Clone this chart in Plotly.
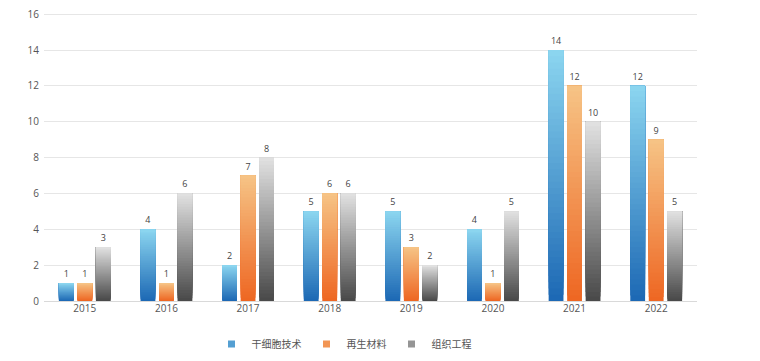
import plotly.graph_objects as go

years = ["2015", "2016", "2017", "2018", "2019", "2020", "2021", "2022"]
series_names = ["干细胞技术", "再生材料", "组织工程"]
stem_cell = [1, 4, 2, 5, 5, 4, 14, 12]
regen_material = [1, 1, 7, 6, 3, 1, 12, 9]
tissue_eng = [3, 6, 8, 6, 2, 5, 10, 5]
series_values = [stem_cell, regen_material, tissue_eng]

# gradient colours (bottom, top)
gradients = [
    ((28, 104, 180), (140, 214, 240)),
    ((238, 102, 34), (246, 196, 134)),
    ((72, 72, 72), (226, 226, 226)),
]
N_SEG = 40


def lerp(c0, c1, t):
    return "rgb(%d,%d,%d)" % tuple(round(a + (b - a) * t) for a, b in zip(c0, c1))


fig = go.Figure()
for si, (name, vals) in enumerate(zip(series_names, series_values)):
    c0, c1 = gradients[si]
    for k in range(N_SEG):
        t = (k + 0.5) / N_SEG
        is_top = k == N_SEG - 1
        # each segment spans from its start to the bar top; later ones overlap
        fig.add_trace(go.Bar(
            x=years,
            y=[v * (N_SEG - k) / N_SEG for v in vals],
            base=[v * k / N_SEG for v in vals],
            offsetgroup=str(si),
            legendgroup=name,
            name=name,
            showlegend=False,
            marker=dict(color=lerp(c0, c1, t), line=dict(width=0)),
            text=[str(v) for v in vals] if is_top else None,
            textposition="outside" if is_top else "none",
            textfont=dict(size=9, color="#444444"),
            constraintext="none",
            cliponaxis=False,
            hoverinfo="skip",
        ))
    # legend entry
    fig.add_trace(go.Scatter(
        x=[None], y=[None], mode="markers", name=name, legendgroup=name,
        marker=dict(symbol="square", size=7, color=lerp(c0, c1, 0.5)),
        showlegend=True,
    ))

# the page body adds an 8px offset; margins compensate for it
fig.update_layout(
    width=760, height=361,
    barmode="group",
    bargap=0.32,
    bargroupgap=0.2,
    plot_bgcolor="white",
    paper_bgcolor="white",
    margin=dict(l=36, r=71, t=4, b=68, autoexpand=False),
    font=dict(family="Open Sans, Noto Sans CJK SC, sans-serif", size=10, color="#555555"),
    legend=dict(
        orientation="h", x=336 / 760, xref="container", xanchor="center",
        y=25 / 361, yref="container", yanchor="middle",
        font=dict(size=10, color="#555555"), traceorder="normal",
        itemwidth=30, tracegroupgap=0,
    ),
    showlegend=True,
)
fig.update_xaxes(showgrid=False, showline=False, ticks="", automargin=False,
                 tickfont=dict(size=10, color="#555555"))
fig.update_yaxes(
    range=[0, 16.12], tick0=0, dtick=2, showgrid=True, gridcolor="#e6e6e6", gridwidth=1,
    zeroline=True, zerolinecolor="#d9d9d9", zerolinewidth=1, automargin=False,
    tickfont=dict(size=10, color="#555555"), ticks="", ticklabelstandoff=4,
    ticklabeloverflow="allow",
)
fig.write_html("out.html")
